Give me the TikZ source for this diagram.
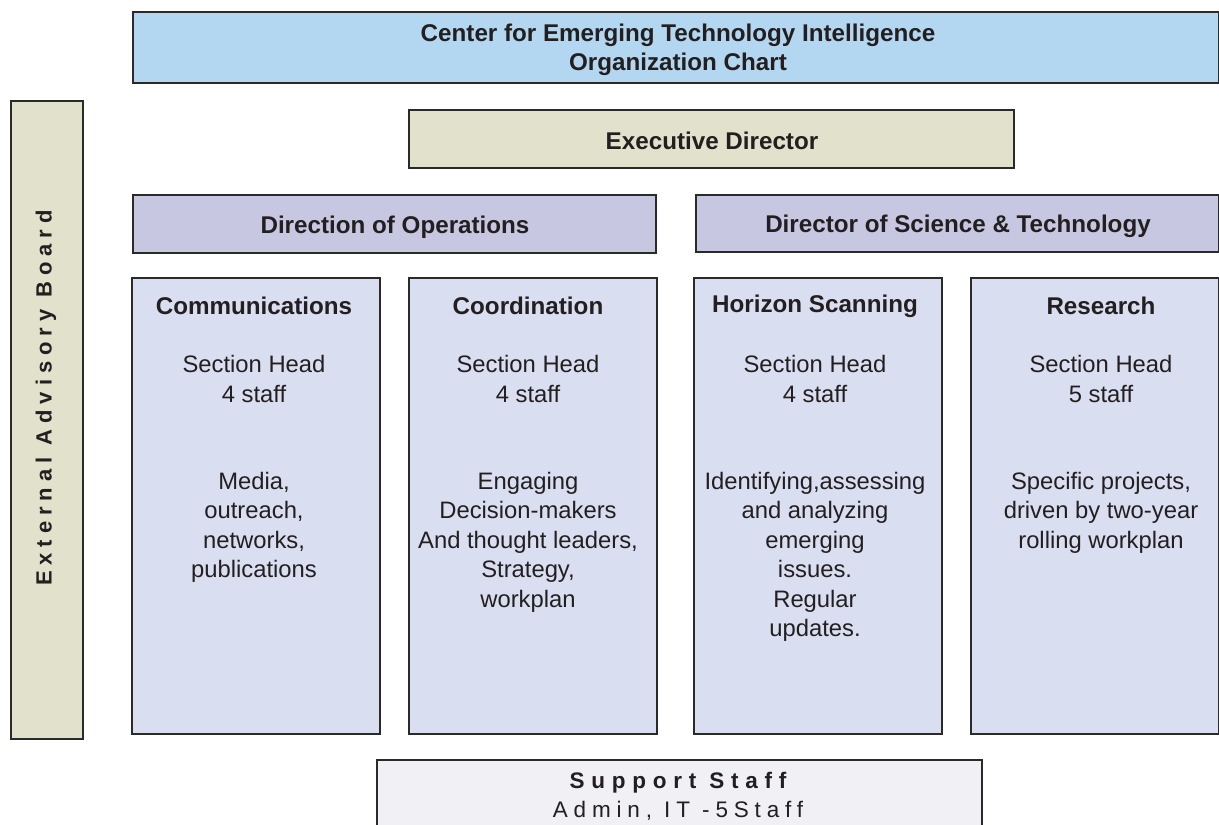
\documentclass[tikz,border=0pt]{standalone}
\usepackage{fontspec}
\setmainfont{Liberation Sans}
\definecolor{titleblue}{HTML}{B3D7F0}
\definecolor{beige}{HTML}{E2E1CB}
\definecolor{lilac}{HTML}{C7C7E2}
\definecolor{paleblue}{HTML}{D9DFF0}
\definecolor{palegrey}{HTML}{F0F0F5}
\definecolor{ink}{HTML}{231F20}
\definecolor{edge}{HTML}{2A2A2A}
\tikzset{
  box/.style={draw=edge, line width=1.6pt, inner sep=0pt, anchor=center},
  boldtxt/.style={font=\fontsize{24.2}{29}\selectfont\bfseries, text=ink, align=center, inner sep=0pt},
  bodytxt/.style={font=\fontsize{23.8}{29.5}\selectfont, text=ink, align=center, inner sep=0pt},
}
\begin{document}
\begin{tikzpicture}[x=1pt,y=-1pt]
\useasboundingbox (0,0) rectangle (1219,825);
% boxes
\node[box, fill=titleblue, minimum width=1086pt, minimum height=71pt] (title) at (676,47.5) {};
\node[box, fill=beige, minimum width=605pt, minimum height=58pt] (exec) at (711.5,139) {};
\node[box, fill=beige, minimum width=72pt, minimum height=638pt] (eab) at (47,420) {};
\node[box, fill=lilac, minimum width=523pt, minimum height=58pt] (ops) at (394.5,224) {};
\node[box, fill=lilac, minimum width=523pt, minimum height=57pt] (sci) at (957.5,223.5) {};
\node[box, fill=paleblue, minimum width=248pt, minimum height=456pt] (comm) at (256,506) {};
\node[box, fill=paleblue, minimum width=248pt, minimum height=456pt] (coord) at (533,506) {};
\node[box, fill=paleblue, minimum width=248pt, minimum height=456pt] (hor) at (818,506) {};
\node[box, fill=paleblue, minimum width=248pt, minimum height=456pt] (res) at (1095,506) {};
\node[box, fill=palegrey, minimum width=605pt, minimum height=80pt] (sup) at (679.5,800) {};
% texts
\node[boldtxt] (titletxt) at (678,50) {Center for Emerging Technology Intelligence\\Organization Chart};
\node[boldtxt] (exectxt) at (712,141) {Executive Director};
\node[boldtxt, rotate=90, font=\fontsize{22}{25}\selectfont\bfseries\addfontfeatures{LetterSpace=27}] (eabtxt) at (46,398) {External Advisory Board};
\node[boldtxt] (opstxt) at (395,227) {Direction of Operations};
\node[boldtxt] (scitxt) at (958,226.5) {Director of Science \& Technology};
\foreach \n/\h/\s/\dx in {comm/Communications/4/-2, coord/Coordination/4/-5, hor/Horizon Scanning/4/-3, res/Research/5/6}{
  \node[boldtxt] (\n-head) at ([yshift=200pt,xshift=\dx pt]\n.center) {\h};
  \node[bodytxt] (\n-sec) at ([yshift=127pt,xshift=\dx pt]\n.center) {Section Head\\\s\ staff};
}
\node[bodytxt, anchor=north] (comm-desc) at ([yshift=34pt,xshift=-2pt]comm.center) {Media,\\outreach,\\networks,\\publications};
\node[bodytxt, anchor=north] (coord-desc) at ([yshift=34pt,xshift=-5pt]coord.center) {Engaging\\Decision-makers\\And thought leaders,\\Strategy,\\workplan};
\node[bodytxt, anchor=north] (hor-desc) at ([yshift=34pt,xshift=-3pt]hor.center) {Identifying,assessing\\and analyzing\\emerging\\issues.\\Regular\\updates.};
\node[bodytxt, anchor=north] (res-desc) at ([yshift=34pt,xshift=6pt]res.center) {Specific projects,\\driven by two-year\\rolling workplan};
\node[boldtxt, font=\fontsize{22.5}{28}\selectfont\bfseries\addfontfeatures{LetterSpace=30}] (suptxt) at (678,783) {Support Staff};
\node[bodytxt, font=\fontsize{22.5}{28}\selectfont\addfontfeatures{LetterSpace=26}] (supsub) at (678,811) {Admin, IT -5Staff};
\end{tikzpicture}
\end{document}
